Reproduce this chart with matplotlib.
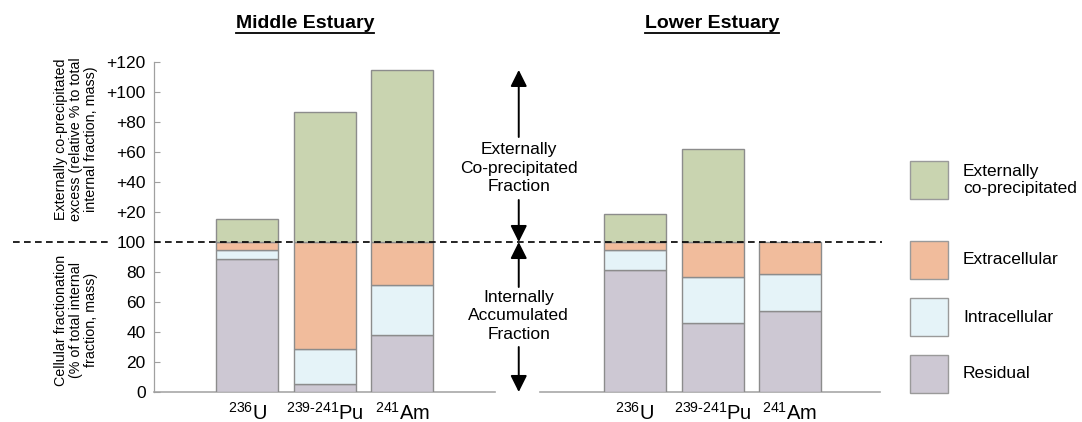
import matplotlib
matplotlib.use("Agg")
import matplotlib.pyplot as plt
from matplotlib.lines import Line2D
from matplotlib.patches import Rectangle
import numpy as np

plt.rcParams['font.family'] = ['Liberation Sans', 'DejaVu Sans']
plt.rcParams['mathtext.fontset'] = 'custom'
plt.rcParams['mathtext.rm'] = 'Liberation Sans'

# ---- data -------------------------------------------------------------
sites = ["Middle Estuary", "Lower Estuary"]
isotopes = [r"$\mathregular{^{236}U}$", r"$\mathregular{^{239\text{-}241}Pu}$",
            r"$\mathregular{^{241}Am}$"]

# % of total internal fraction (U, Pu, Am)
residual_mid = [89, 5.5, 38]
intracellular_mid = [6, 23, 33.5]
extracellular_mid = [5, 71.5, 28.5]
external_mid = [15.5, 87, 115]

residual_low = [81.5, 46, 54]
intracellular_low = [13.5, 31, 25]
extracellular_low = [5, 23, 21]
external_low = [18.5, 62, 0]

series_names = ["Externally\nco-precipitated", "Extracellular", "Intracellular", "Residual"]
series_colors = ["#c9d4b0", "#f1bc9c", "#e5f3f8", "#cdc8d3"]

ytick_values = [0, 20, 40, 60, 80, 100, 120, 140, 160, 180, 200, 220]
ytick_labels = ["0", "20", "40", "60", "80", "100",
                "+20", "+40", "+60", "+80", "+100", "+120"]

# ---- figure -----------------------------------------------------------
W, H = 1082, 422
fig = plt.figure(figsize=(W / 100, H / 100), dpi=100)


def fx(px):
    return px / W


def fy(py):
    return 1 - py / H


ax = fig.add_axes([fx(154), fy(392), fx(880) - fx(154), (392 - 62) / H])
ax.set_xlim(-1.206, 8.161)
ax.set_ylim(0, 220)

pos_mid = np.array([0, 1, 2])
pos_low = np.array([5, 6, 7])
positions = np.concatenate([pos_mid, pos_low])
residual = np.array(residual_mid + residual_low)
intra = np.array(intracellular_mid + intracellular_low)
extra = np.array(extracellular_mid + extracellular_low)
external = np.array(external_mid + external_low)

edge = "#8c8c8c"
bw = 0.8
kw = dict(width=bw, edgecolor=edge, linewidth=1.0, zorder=2)
ax.bar(positions, residual, color=series_colors[3], **kw)
ax.bar(positions, intra, bottom=residual, color=series_colors[2], **kw)
ax.bar(positions, extra, bottom=residual + intra, color=series_colors[1], **kw)
ext_mask = external > 0
ax.bar(positions[ext_mask], external[ext_mask],
       bottom=(residual + intra + extra)[ext_mask], color=series_colors[0], **kw)

# axes styling
for s in ["top", "right", "bottom"]:
    ax.spines[s].set_visible(False)
ax.spines["left"].set_color("#a0a0a0")
ax.spines["left"].set_linewidth(0.9)
ax.set_yticks(ytick_values)
ax.set_yticklabels(ytick_labels, fontsize=12.5)
ax.tick_params(axis="y", direction="in", length=4, color="#a0a0a0", pad=6)
ax.set_xticks(positions)
ax.set_xticklabels(isotopes * 2, fontsize=14.5)
ax.tick_params(axis="x", length=0, pad=7)

# baseline with a gap for the central arrow
ax.plot([-1.206, 3.19], [0, 0], color="#a8a8a8", lw=1.2, clip_on=False, zorder=1)
ax.plot([3.77, 8.161], [0, 0], color="#a8a8a8", lw=1.2, clip_on=False, zorder=1)

# dashed 100 % reference line across the figure (broken around the "100" label)
dash = dict(color="black", lw=1.2, linestyle=(0, (4, 2.6)), zorder=5)
fig.add_artist(Line2D([fx(13), fx(112)], [fy(242), fy(242)], **dash))
fig.add_artist(Line2D([fx(154), fx(882)], [fy(242), fy(242)], **dash))

# central arrows and annotations
ap = dict(arrowstyle="-|>,head_length=1.0,head_width=0.5", color="black",
          lw=1.4, shrinkA=0, shrinkB=0)
ax.annotate("", xy=(3.5, 214.7), xytext=(3.5, 170), arrowprops=ap)
ax.annotate("", xy=(3.5, 100), xytext=(3.5, 128), arrowprops=ap)
ax.annotate("", xy=(3.5, 100), xytext=(3.5, 70), arrowprops=ap)
ax.annotate("", xy=(3.5, 0), xytext=(3.5, 30), arrowprops=ap, annotation_clip=False)
ax.text(3.5, 149.3, "Externally\nCo-precipitated\nFraction", ha="center", va="center",
        fontsize=12.5, linespacing=1.3)
ax.text(3.5, 50.7, "Internally\nAccumulated\nFraction", ha="center", va="center",
        fontsize=12.5, linespacing=1.3)

# y-axis descriptions
fig.text(fx(76), fy(139), "Externally co-precipitated\nexcess (relative % to total\ninternal fraction, mass)",
         rotation=90, ha="center", va="center", multialignment="center",
         fontsize=10.3, linespacing=1.05)
fig.text(fx(76), fy(320), "Cellular fractionation\n(% of total internal\nfraction, mass)",
         rotation=90, ha="center", va="center", multialignment="center",
         fontsize=10.3, linespacing=1.05)

# panel titles, bold and underlined
renderer = fig.canvas.get_renderer()
for name, cx in zip(sites, [305, 712]):
    t = fig.text(fx(cx), fy(23), name, ha="center", va="center",
                 fontsize=14, fontweight="bold")
    bb = t.get_window_extent(renderer=renderer)
    y_ul = fy(32.5)
    fig.add_artist(Line2D([bb.x0 / W, bb.x1 / W], [y_ul, y_ul], color="black", lw=1.3))

# legend
box_tops = [161, 241, 298, 355]
box_size = 38
for name, col, top in zip(series_names, series_colors, box_tops):
    fig.add_artist(Rectangle((fx(910), fy(top + box_size)), box_size / W, box_size / H,
                             transform=fig.transFigure, facecolor=col,
                             edgecolor="#9a9a9a", lw=1.0))
    fig.text(fx(963), fy(top + box_size / 2), name, ha="left", va="center",
             fontsize=12.5, linespacing=1.1)

fig.savefig("out.png", dpi=100)
